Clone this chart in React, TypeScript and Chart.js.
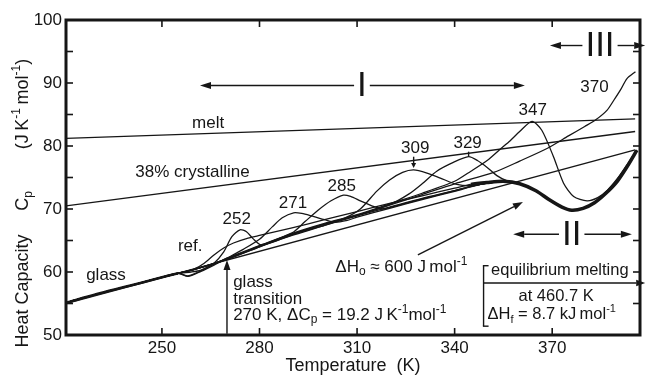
import React, { useEffect, useRef } from 'react';
import { Chart, registerables } from 'chart.js';

Chart.register(...registerables);

type P = [number, number];

// ---------- axes ----------
const X_MIN = 220.5;
const X_MAX = 397;
const Y_MIN = 50;
const Y_MAX = 100;
const xTickValues = [250, 280, 310, 340, 370];
const yTickStep = 5;

// ---------- straight reference lines ----------
const glassLine: P[] = [[220.5, 55.0], [395.5, 79.4]];
const meltLine: P[] = [[220.5, 81.2], [395.5, 84.3]];
const crystallineLine: P[] = [[220.5, 70.5], [395.5, 82.3]];

// ---------- shared segments of the measured curves ----------
const glassRegion: P[] = [[221, 55.2], [230, 56.5], [240, 57.8], [248, 58.9], [255, 59.8]];
const meltTail: P[] = [[360, 74.0], [365, 72.9], [369, 71.5], [373, 70.3], [376, 69.8], [379.5, 70.1], [383, 71.0], [386.5, 72.5], [390, 74.4], [393, 76.7], [396, 79.3]];

// ---------- measured curves (annealing temperature in K) ----------
const refCurve: P[] = [...glassRegion, [260, 60.5], [263, 61.4], [266, 62.7], [269, 63.8], [272, 64.6], [276, 65.3], [280, 65.8], [290, 67.0], [300, 68.3], [310, 69.6], [320, 70.9], [330, 72.1], [340, 73.3], [345, 73.9], [350, 74.2], [355, 74.4], ...meltTail];
const c252: P[] = [...glassRegion, [258, 59.4], [262, 60.2], [266, 61.4], [269, 63.2], [271.5, 65.6], [274, 66.7], [276, 66.4], [278, 65.3], [280.5, 64.3], [285, 64.9], [290, 65.9], [300, 67.4], [310, 68.9], [320, 70.3], [330, 71.7], [340, 72.9], [345, 73.6], [350, 74.1], [355, 74.4], ...meltTail];
const c271: P[] = [...glassRegion, [258, 59.3], [262, 60.1], [266, 61.1], [270, 62.2], [275, 63.6], [280, 65.2], [284, 67.2], [287, 68.6], [290.5, 69.4], [293, 69.3], [296, 68.9], [300, 68.3], [303, 67.9], [307, 68.2], [310, 68.7], [320, 70.1], [330, 71.5], [340, 72.8], [345, 73.5], [350, 74.1], [355, 74.3], ...meltTail];
const c285: P[] = [...glassRegion, [259, 60.0], [262, 60.3], [270, 62.2], [280, 64.2], [290, 66.2], [294, 68.0], [298, 69.8], [302, 71.3], [305.8, 72.2], [308, 72.0], [311, 71.3], [315, 70.4], [318, 70.0], [322, 70.5], [330, 71.6], [340, 72.9], [345, 73.6], [350, 74.1], [355, 74.4], ...meltTail];
const c309: P[] = [...glassRegion, [260, 60.4], [270, 62.0], [280, 64.0], [290, 65.8], [300, 67.4], [306, 68.5], [311, 70.0], [316, 72.8], [320, 74.6], [324, 75.8], [327.4, 76.2], [331.5, 75.7], [335.6, 74.9], [340.7, 73.9], [345, 73.7], [350, 74.1], [355, 74.4], ...meltTail];
const c329: P[] = [...glassRegion, [260, 60.4], [270, 62.1], [280, 64.1], [290, 66.0], [300, 67.6], [310, 69.0], [320, 70.7], [326, 72.4], [330, 74.0], [334.5, 76.0], [339.6, 77.4], [344.3, 78.3], [347, 77.7], [350, 76.6], [353, 75.3], [356, 74.5], ...meltTail];
const c347: P[] = [...glassRegion, [260, 60.4], [270, 62.1], [280, 64.1], [290, 66.1], [300, 67.7], [310, 69.1], [320, 70.8], [330, 72.5], [340, 74.4], [345, 76.0], [350, 77.7], [354, 79.5], [357, 80.8], [360, 82.3], [363.8, 83.9], [366.8, 82.5], [370.4, 78.3], [373.5, 74.1], [376.6, 72.0], [380.7, 71.3], [384, 71.8], [387, 73.0], [390, 74.8], [393, 77.0], [396, 79.4]];
const c370: P[] = [...glassRegion, [260, 60.4], [270, 62.0], [280, 64.0], [290, 66.0], [300, 67.6], [310, 69.0], [320, 70.6], [330, 72.3], [340, 74.0], [352, 75.8], [360, 77.6], [368.4, 79.6], [375, 81.6], [380, 83.1], [383.5, 84.2], [386.9, 85.7], [389, 87.3], [391, 88.9], [393, 90.7], [395.6, 91.8]];

// ---------- annotation texts (positions in data units) ----------
const curveLabels: { text: string; t: number; c: number }[] = [
  { text: 'melt', t: 264.2, c: 83.65 },
  { text: '38% crystalline', t: 259.4, c: 75.8 },
  { text: 'glass', t: 232.8, c: 59.4 },
  { text: 'ref.', t: 258.7, c: 64.0 },
  { text: '252', t: 273.0, c: 68.4 },
  { text: '271', t: 290.3, c: 70.95 },
  { text: '285', t: 305.3, c: 73.65 },
  { text: '309', t: 327.9, c: 79.6 },
  { text: '329', t: 344.0, c: 80.4 },
  { text: '347', t: 364.0, c: 85.6 },
  { text: '370', t: 383.0, c: 89.3 },
];

const FONT = '"Liberation Sans", Arial, Helvetica, sans-serif';
const INK = '#161616';

type Part = [string, '' | 'sub' | 'sup'];

function rich(ctx: CanvasRenderingContext2D, parts: Part[], x: number, y: number, align: 'left' | 'center' | 'right', size: number) {
  const small = Math.round(size * 0.68);
  let w = 0;
  for (const [s, k] of parts) {
    ctx.font = `${k ? small : size}px ${FONT}`;
    w += ctx.measureText(s).width;
  }
  let cx = align === 'center' ? x - w / 2 : align === 'right' ? x - w : x;
  ctx.textAlign = 'left';
  ctx.textBaseline = 'middle';
  for (const [s, k] of parts) {
    ctx.font = `${k ? small : size}px ${FONT}`;
    const dy = k === 'sub' ? size * 0.3 : k === 'sup' ? -size * 0.33 : 0;
    ctx.fillText(s, cx, y + dy);
    cx += ctx.measureText(s).width;
  }
  return w;
}

function line(ctx: CanvasRenderingContext2D, x1: number, y1: number, x2: number, y2: number) {
  ctx.beginPath();
  ctx.moveTo(x1, y1);
  ctx.lineTo(x2, y2);
  ctx.stroke();
}

function arrow(ctx: CanvasRenderingContext2D, x1: number, y1: number, x2: number, y2: number, len = 10, half = 3.5) {
  const a = Math.atan2(y2 - y1, x2 - x1);
  const bx = x2 - len * Math.cos(a);
  const by = y2 - len * Math.sin(a);
  line(ctx, x1, y1, bx, by);
  ctx.beginPath();
  ctx.moveTo(x2, y2);
  ctx.lineTo(bx + half * Math.sin(a), by - half * Math.cos(a));
  ctx.lineTo(bx - half * Math.sin(a), by + half * Math.cos(a));
  ctx.closePath();
  ctx.fill();
}

const decor = {
  id: 'decor',
  afterDraw(chart: any) {
    const ctx: CanvasRenderingContext2D = chart.ctx;
    const xs = chart.scales.x;
    const ys = chart.scales.y;
    const X = (v: number) => xs.getPixelForValue(v);
    const Y = (v: number) => ys.getPixelForValue(v);
    const { left, right, top, bottom } = chart.chartArea;
    ctx.save();
    ctx.strokeStyle = INK;
    ctx.fillStyle = INK;
    ctx.lineCap = 'butt';

    // inward ticks
    ctx.lineWidth = 1.6;
    for (let v = Y_MIN + yTickStep; v < Y_MAX; v += yTickStep) {
      line(ctx, left, Y(v), left + 7, Y(v));
      line(ctx, right, Y(v), right - 7, Y(v));
    }
    for (const v of xTickValues) {
      line(ctx, X(v), bottom, X(v), bottom - 7);
      line(ctx, X(v), top, X(v), top + 7);
    }
    // frame
    ctx.lineWidth = 3;
    ctx.strokeRect(left, top, right - left, bottom - top);

    // y axis title (three groups spaced like the original)
    ctx.save();
    ctx.translate(23, 0);
    ctx.rotate(-Math.PI / 2);
    rich(ctx, [['Heat Capacity', '']], -291, 0, 'center', 18);
    rich(ctx, [['C', ''], ['p', 'sub']], -201, 0, 'center', 18);
    ctx.save();
    rich(ctx, [['(J\u2009K', ''], ['-1', 'sup'], ['\u2009mol', ''], ['-1', 'sup'], [')', '']], -104, 0, 'center', 18);
    ctx.restore();
    ctx.restore();

    // curve labels
    for (const l of curveLabels) {
      rich(ctx, [[l.text, '']], X(l.t), Y(l.c), 'center', 17);
    }

    ctx.lineWidth = 1.4;
    // small pointers for 309 and 329
    arrow(ctx, X(327.4), Y(78.3), X(327.4), Y(76.5), 5, 2.5);
    line(ctx, X(344.3), Y(79.1), X(344.3), Y(78.4));

    // region arrows with roman numerals
    const regions: { label: string; a: number; b: number; t: number; c: number }[] = [
      { label: 'I', a: 261.7, b: 361.6, t: 311.5, c: 89.6 },
      { label: 'II', a: 358.0, b: 394.5, t: 376.0, c: 66.0 },
      { label: 'III', a: 369.3, b: 398.6, t: 384.7, c: 95.95 },
    ];
    for (const r of regions) {
      ctx.font = `35px ${FONT}`;
      const w = ctx.measureText(r.label).width;
      const cx = X(r.t);
      const cy = Y(r.c);
      ctx.textAlign = 'center';
      ctx.textBaseline = 'middle';
      ctx.fillText(r.label, cx, cy + 1);
      arrow(ctx, cx - w / 2 - 3, cy, X(r.a), cy, 11, 3.5);
      arrow(ctx, cx + w / 2 + 3, cy, X(r.b), cy, 11, 3.5);
    }

    // ΔHo arrow and text
    arrow(ctx, X(328.7), Y(62.7), X(361.0), Y(71.1), 10, 3.5);
    rich(ctx, [['ΔH', ''], ['o', 'sub'], [' ≈ 600 J\u2009mol', ''], ['-1', 'sup']], X(303.3), Y(60.8), 'left', 17);

    // glass transition arrow and text
    arrow(ctx, X(270), Y(50.2), X(270), Y(61.9), 10, 3.5);
    rich(ctx, [['glass', '']], X(271.9), Y(58.3), 'left', 17);
    rich(ctx, [['transition', '']], X(271.9), Y(55.7), 'left', 17);
    rich(ctx, [['270 K, ΔC', ''], ['p', 'sub'], [' = 19.2 J\u2009K', ''], ['-1', 'sup'], ['mol', ''], ['-1', 'sup']], X(271.9), Y(53.2), 'left', 17);

    // equilibrium melting bracket
    const bx = X(348.9);
    line(ctx, bx, Y(61.0), bx, Y(51.4));
    line(ctx, bx - 0.7, Y(61.0), bx + 5, Y(61.0));
    line(ctx, bx - 0.7, Y(51.4), bx + 5, Y(51.4));
    arrow(ctx, bx, Y(58.25), X(398.6), Y(58.25), 9, 3.2);
    rich(ctx, [['equilibrium melting', '']], X(351.2), Y(60.2), 'left', 16.5);
    rich(ctx, [['at 460.7 K', '']], X(371.2), Y(56.1), 'center', 16.5);
    rich(ctx, [['ΔH', ''], ['f', 'sub'], [' = 8.7 kJ\u2009mol', ''], ['-1', 'sup']], X(350.1), Y(53.2), 'left', 16.5);

    ctx.restore();
  },
};

function toXY(p: P[]) {
  return p.map(([x, y]) => ({ x, y }));
}

export default function App() {
  const ref = useRef<HTMLCanvasElement | null>(null);
  useEffect(() => {
    if (!ref.current) return;
    const thin = 1.3;
    const base = { showLine: true, pointRadius: 0, borderColor: INK, backgroundColor: INK, borderWidth: thin, tension: 0.25, fill: false };
    const chart = new Chart(ref.current, {
      type: 'scatter',
      data: {
        datasets: [
          { ...base, label: 'glass', data: toXY(glassLine), tension: 0 },
          { ...base, label: 'melt', data: toXY(meltLine), tension: 0 },
          { ...base, label: '38% crystalline', data: toXY(crystallineLine), tension: 0 },
          {
            ...base,
            label: 'ref.',
            data: toXY(refCurve),
            segment: { borderWidth: (c: any) => (c.p0.parsed.x >= 344 ? 3.6 : c.p0.parsed.x < 254 ? 2.6 : thin) },
          },
          { ...base, label: '252', data: toXY(c252) },
          { ...base, label: '271', data: toXY(c271) },
          { ...base, label: '285', data: toXY(c285) },
          { ...base, label: '309', data: toXY(c309) },
          { ...base, label: '329', data: toXY(c329) },
          { ...base, label: '347', data: toXY(c347) },
          { ...base, label: '370', data: toXY(c370) },
        ],
      },
      options: {
        animation: false,
        responsive: false,
        layout: { padding: { left: 0, top: 20, right: 6, bottom: 0 } },
        plugins: { legend: { display: false }, tooltip: { enabled: false } },
        scales: {
          x: {
            type: 'linear',
            min: X_MIN,
            max: X_MAX,
            grid: { display: false, drawTicks: false },
            border: { display: false },
            afterBuildTicks: (s: any) => {
              s.ticks = xTickValues.map((v) => ({ value: v }));
            },
            afterFit: (s: any) => {
              s.height = 42;
            },
            ticks: { padding: 3, color: INK, font: { family: FONT, size: 17 }, maxRotation: 0, autoSkip: false },
            title: { display: true, text: 'Temperature  (K)', color: INK, font: { family: FONT, size: 18 }, padding: { top: 0, bottom: 0 } },
          },
          y: {
            type: 'linear',
            min: Y_MIN,
            max: Y_MAX,
            grid: { display: false, drawTicks: false },
            border: { display: false },
            afterFit: (s: any) => {
              s.width = 66;
            },
            ticks: {
              stepSize: yTickStep,
              padding: 4,
              color: INK,
              font: { family: FONT, size: 17 },
              callback: (v: any) => (Number(v) % 10 === 0 ? String(v) : ''),
            },
          },
        },
      },
      plugins: [decor],
    } as any);
    return () => chart.destroy();
  }, []);
  return (
    <div style={{ position: 'absolute', left: 0, top: 0, width: 646, height: 377, background: '#fff' }}>
      <canvas ref={ref} width={646} height={377} style={{ display: 'block' }} />
    </div>
  );
}
